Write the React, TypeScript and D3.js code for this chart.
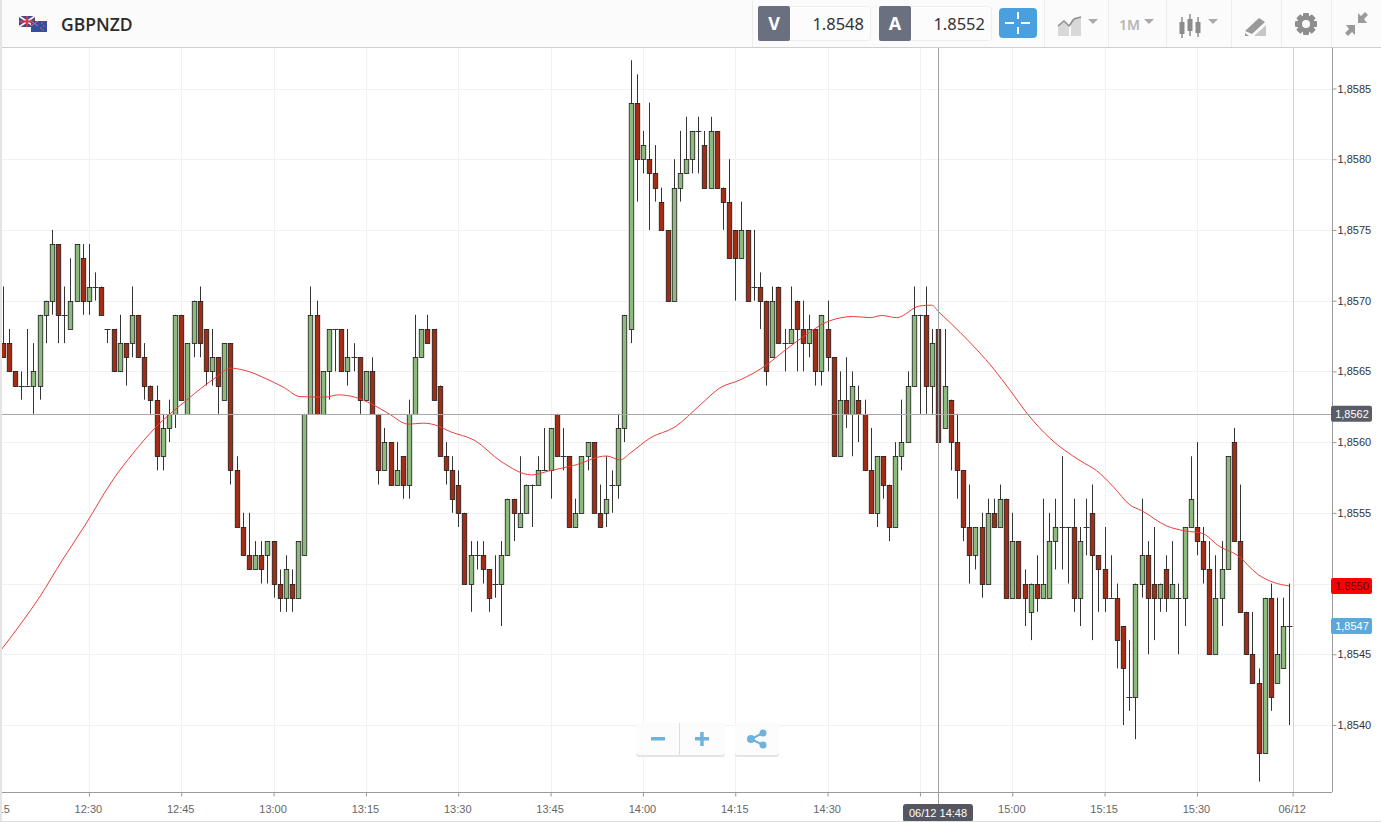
import { useEffect, useRef } from 'react';
import * as d3 from 'd3';

const WIDTH = 1381;
const HEIGHT = 822;

// candle values are the last two digits after 1.85, i.e. 67 means 1.8567
const opens = [
  67, 67, 65, 64, 64, 64, 64, 69, 70, 74, 69, 68, 70, 73, 70, 71, 71, 68, 68, 65,
  67, 67, 69, 66, 64, 63, 59, 61, 62, 69, 62, 67, 70, 68, 65, 66, 63, 67, 58, 54,
  52, 51, 52, 52, 53, 50, 49, 50, 49, 52, 62, 69, 62, 65, 68, 68, 65, 66, 66, 63,
  65, 62, 58, 60, 57, 59, 57, 62, 66, 68, 68, 64, 59, 58, 57, 55, 50, 52, 52, 51,
  50, 50, 52, 56, 54, 55, 57, 57, 58, 58, 62, 59, 59, 54, 55, 59, 60, 55, 55, 57,
  57, 61, 68, 84, 80, 80, 79, 77, 75, 70, 78, 79, 80, 82, 81, 78, 82, 78, 77, 75,
  73, 75, 71, 71, 70, 66, 71, 67, 67, 70, 68, 67, 68, 65, 68, 66, 59, 63, 62, 63,
  62, 58, 55, 59, 57, 54, 59, 60, 64, 69, 69, 64, 68, 61, 63, 60, 58, 54, 52, 54,
  50, 55, 54, 56, 49, 53, 50, 48, 50, 49, 49, 53, 54, 54, 54, 49, 54, 55, 52, 51,
  49, 49, 47, 42, 42, 50, 52, 50, 49, 51, 49, 49, 49, 54, 54, 53, 51, 45, 49, 51,
  60, 53, 48, 45, 43, 38, 49, 43, 44, 47,
];
const closes = [
  66, 65, 64, 64, 64, 65, 69, 70, 74, 69, 69, 70, 74, 70, 71, 71, 69, 68, 65, 67,
  66, 69, 66, 64, 63, 59, 61, 62, 69, 63, 67, 70, 67, 65, 66, 64, 67, 58, 54, 52,
  51, 52, 51, 53, 50, 49, 51, 49, 53, 62, 69, 62, 65, 68, 68, 65, 66, 66, 63, 65,
  62, 58, 60, 57, 58, 57, 62, 66, 68, 67, 63, 59, 58, 56, 55, 50, 52, 52, 51, 49,
  50, 52, 56, 55, 55, 57, 57, 58, 58, 61, 59, 59, 54, 55, 59, 60, 55, 54, 56, 57,
  61, 69, 84, 80, 81, 79, 78, 75, 70, 78, 79, 80, 82, 82, 78, 82, 78, 77, 73, 73,
  75, 70, 71, 70, 65, 70, 67, 67, 68, 68, 67, 68, 65, 69, 66, 59, 63, 62, 64, 62,
  58, 55, 59, 57, 54, 59, 60, 64, 69, 69, 64, 67, 60, 64, 60, 58, 54, 52, 54, 50,
  55, 54, 56, 49, 53, 49, 49, 50, 49, 50, 53, 54, 54, 54, 49, 53, 54, 52, 51, 49,
  49, 46, 44, 42, 50, 52, 49, 49, 50, 49, 50, 49, 54, 56, 53, 51, 45, 49, 51, 59,
  53, 48, 45, 43, 38, 49, 42, 45, 47, 47,
];
const highs = [
  71, 68, 65, 65, 68, 67, 69, 70, 75, 74, 71, 73, 74, 74, 74, 72, 71, 68, 68, 69,
  67, 71, 69, 67, 64, 64, 62, 63, 69, 69, 67, 70, 71, 68, 68, 66, 67, 67, 59, 55,
  55, 53, 53, 53, 53, 51, 52, 51, 53, 62, 71, 70, 65, 68, 68, 68, 68, 67, 66, 65,
  66, 62, 61, 60, 60, 59, 63, 69, 68, 69, 68, 64, 60, 59, 58, 55, 53, 53, 53, 51,
  52, 53, 56, 56, 59, 57, 57, 59, 61, 61, 62, 61, 59, 56, 59, 60, 60, 57, 59, 58,
  62, 69, 87, 86, 82, 84, 81, 78, 75, 80, 82, 83, 82, 83, 82, 83, 82, 78, 80, 75,
  77, 75, 75, 72, 70, 71, 71, 68, 71, 70, 70, 69, 68, 69, 70, 66, 65, 66, 65, 64,
  63, 61, 59, 59, 57, 60, 63, 65, 71, 69, 71, 68, 68, 68, 63, 62, 58, 57, 54, 55,
  56, 56, 57, 56, 55, 53, 51, 50, 52, 56, 55, 56, 59, 54, 56, 54, 56, 57, 52, 54,
  52, 50, 47, 46, 50, 56, 53, 54, 50, 52, 53, 50, 54, 59, 60, 54, 53, 52, 53, 59,
  61, 57, 48, 48, 44, 49, 50, 49, 49, 50,
];
const lows = [
  66, 65, 64, 63, 64, 62, 63, 67, 69, 67, 67, 68, 70, 69, 69, 70, 69, 67, 65, 65,
  64, 66, 66, 63, 62, 58, 58, 60, 61, 63, 62, 66, 66, 64, 64, 62, 63, 57, 54, 52,
  51, 51, 50, 50, 49, 48, 48, 48, 49, 52, 62, 62, 62, 63, 65, 65, 64, 65, 62, 63,
  62, 57, 58, 57, 57, 56, 56, 62, 66, 67, 63, 59, 57, 55, 54, 50, 48, 51, 50, 48,
  49, 47, 52, 53, 54, 55, 54, 57, 58, 56, 59, 58, 54, 54, 55, 58, 55, 54, 54, 55,
  56, 60, 67, 77, 79, 75, 77, 75, 70, 70, 77, 79, 79, 79, 78, 78, 78, 75, 73, 70,
  73, 70, 70, 68, 64, 66, 67, 65, 67, 65, 65, 66, 64, 64, 65, 59, 59, 61, 59, 60,
  58, 55, 54, 56, 53, 54, 58, 60, 64, 62, 62, 62, 60, 61, 58, 56, 53, 50, 51, 49,
  50, 54, 54, 49, 49, 49, 47, 46, 48, 49, 49, 51, 51, 50, 48, 47, 52, 46, 48, 48,
  49, 44, 40, 41, 39, 49, 45, 46, 48, 48, 49, 45, 47, 54, 52, 50, 45, 45, 47, 51,
  53, 48, 45, 43, 36, 38, 41, 43, 44, 40,
];

// moving average at these candle positions
const maIndex = [
  -0.4, 2.8, 6.1, 9.6, 13.4, 17.9, 21.2, 24.7, 29.9, 34.8, 37, 39.4, 42.6, 45.6, 48.3,
  52.4, 54.5, 57.2, 59.9, 62.6, 65.9, 68.3, 70.2, 72.7, 76.7, 81, 85.9, 88.9, 92.7,
  98.1, 100.3, 101.9, 105.2, 109.2, 113.3, 116.5, 119.8, 124.1, 126.8, 130.1, 134,
  138.2, 140.9, 142.8, 145.2, 149, 150.9, 152, 155.5, 161.1, 163.6, 166.6, 170.1, 175,
  177.7, 180.4, 183.1, 185, 189.1, 192.1, 194.8, 197.7, 200.5, 204, 206.4, 209,
];
const maValues = [
  45.23, 47.07, 49.12, 51.6, 54.14, 57.33, 59.22, 60.98, 62.98, 64.63, 65.23, 65.06,
  64.52, 63.88, 63.22, 63.18, 63.34, 63.18, 62.7, 62.04, 61.27, 61.34, 61.22, 60.74,
  60.11, 58.62, 57.68, 57.98, 58.34, 59.02, 58.74, 59.21, 60.3, 61.07, 62.63, 63.83,
  64.4, 65.46, 66.4, 67.46, 68.52, 68.88, 68.8, 68.95, 68.8, 69.63, 69.68, 69.23,
  67.77, 65.11, 63.69, 61.92, 60.28, 58.69, 57.98, 56.85, 55.56, 55.16, 54.07, 53.72,
  53.56, 52.61, 52.02, 50.61, 50.09, 49.83,
];

const priceTicks = [40, 45, 50, 55, 60, 65, 70, 75, 80, 85];
const timeLabels = ['12:15', '12:30', '12:45', '13:00', '13:15', '13:30', '13:45', '14:00', '14:15', '14:30', '14:45', '15:00', '15:15', '15:30', '06/12'];
const timeIndex = [-1, 14, 29, 44, 59, 74, 89, 104, 119, 134, 149, 164, 179, 194, 209.55];

const priceText = (p: number) => `1,85${p}`;

export default function App() {
  const svgRef = useRef<SVGSVGElement>(null);

  useEffect(() => {
    if (!svgRef.current) return;
    const svg = d3.select(svgRef.current);
    svg.selectAll('*').remove();

    const x = d3.scaleLinear().domain([0, 209]).range([2.7, 1289.3]);
    const y = d3.scaleLinear().domain([40, 85]).range([725, 88.5]);
    const axisX = 1332;
    const axisY = 792;
    const px = (v: number) => Math.round(v) + 0.5;

    svg.append('rect').attr('width', WIDTH).attr('height', HEIGHT).attr('fill', '#fff');

    // grid
    const grid = svg.append('g').attr('stroke', '#f0f1f1').attr('stroke-width', 1);
    priceTicks.forEach((p) => {
      grid.append('line').attr('x1', 0).attr('x2', axisX).attr('y1', px(y(p))).attr('y2', px(y(p)));
    });
    timeIndex.forEach((t, i) => {
      grid.append('line').attr('x1', px(x(t))).attr('x2', px(x(t))).attr('y1', 48).attr('y2', axisY)
        .attr('stroke', i === timeIndex.length - 1 ? '#d2d2d2' : '#f0f1f1');
    });

    // candles
    const candles = svg.append('g');
    opens.forEach((open, i) => {
      const close = closes[i];
      const cx = px(x(i));
      candles.append('line')
        .attr('x1', cx).attr('x2', cx)
        .attr('y1', y(highs[i])).attr('y2', y(lows[i]))
        .attr('stroke', '#333').attr('stroke-width', 1);
      if (open === close) {
        candles.append('line')
          .attr('x1', cx - 3).attr('x2', cx + 3)
          .attr('y1', px(y(open))).attr('y2', px(y(open)))
          .attr('stroke', '#333').attr('stroke-width', 1);
        return;
      }
      const top = px(y(Math.max(open, close)));
      const bottom = px(y(Math.min(open, close)));
      candles.append('rect')
        .attr('x', cx - 2.25).attr('width', 4.5)
        .attr('y', top).attr('height', bottom - top)
        .attr('fill', close > open ? '#8fba7e' : '#a32c14')
        .attr('stroke', '#1a1a1a').attr('stroke-width', 0.8);
    });

    // moving average
    const maLine = d3.line<number>()
      .x((_, i) => x(maIndex[i]))
      .y((d) => y(d))
      .curve(d3.curveMonotoneX);
    svg.append('path')
      .attr('d', maLine(maValues) || '')
      .attr('fill', 'none')
      .attr('stroke', '#ec3d3a')
      .attr('stroke-width', 1);

    // crosshair
    svg.append('line').attr('x1', 0).attr('x2', axisX).attr('y1', 414.5).attr('y2', 414.5).attr('stroke', '#a8a8a8');
    svg.append('line').attr('x1', 938.5).attr('x2', 938.5).attr('y1', 48).attr('y2', 804).attr('stroke', '#a0a0a0');

    // axes
    const styleAxis = (g: d3.Selection<SVGGElement, unknown, null, undefined>, color: string) => {
      g.selectAll('.domain').attr('stroke', '#9a9a9a');
      g.selectAll('.tick line').attr('stroke', '#9a9a9a');
      g.selectAll('text')
        .attr('font-family', '"Liberation Sans", Arial, sans-serif')
        .attr('font-size', 11)
        .attr('fill', color);
    };
    const yAxis = svg.append('g')
      .attr('transform', `translate(${axisX + 0.5},0)`)
      .call(
        d3.axisRight(y).tickValues(priceTicks).tickSize(4).tickPadding(1).tickFormat((d) => priceText(d as number))
      );
    yAxis.select('.domain').attr('d', `M0,48V${axisY}`);
    styleAxis(yAxis, '#333');

    const xAxis = svg.append('g')
      .attr('transform', `translate(0,${axisY + 0.5})`)
      .call(
        d3.axisBottom(x).tickValues(timeIndex).tickSize(4).tickPadding(9)
          .tickFormat((_, i) => timeLabels[i])
      );
    xAxis.select('.domain').attr('d', `M0,0H${axisX}`);
    xAxis.selectAll('text').attr('dx', -1);
    styleAxis(xAxis, '#666');

    // price badges, the red one sits at the last moving average value
    const badge = (price: number, label: string, fill: string, color: string) => {
      const cy = y(price);
      svg.append('rect').attr('x', 1331).attr('y', cy - 8).attr('width', 41).attr('height', 16).attr('rx', 2).attr('fill', fill);
      svg.append('text').attr('x', 1352).attr('y', cy + 4).attr('text-anchor', 'middle')
        .attr('font-family', '"Liberation Sans", Arial, sans-serif').attr('font-size', 11)
        .attr('fill', color).text(label);
    };
    badge(62, priceText(62), '#5a5d68', '#fff');
    badge(maValues[maValues.length - 1], priceText(50), '#ff0000', '#4a1010');
    badge(47, priceText(47), '#5aa9dc', '#fff');

    // crosshair time badge
    svg.append('rect').attr('x', 903).attr('y', 804).attr('width', 70).attr('height', 18).attr('rx', 3).attr('fill', '#55565f');
    svg.append('text').attr('x', 938).attr('y', 816.5).attr('text-anchor', 'middle')
      .attr('font-family', '"Liberation Sans", Arial, sans-serif').attr('font-size', 11)
      .attr('fill', '#fff').text('06/12 14:48');

    // zoom + share buttons
    const buttons = svg.append('g');
    [[636, 89], [735, 44]].forEach(([bx, bw]) => {
      buttons.append('rect').attr('x', bx).attr('y', 725).attr('width', bw).attr('height', 32).attr('rx', 3).attr('fill', '#e4e4e4');
      buttons.append('rect').attr('x', bx).attr('y', 723).attr('width', bw).attr('height', 32).attr('rx', 3).attr('fill', '#fcfcfc');
    });
    buttons.append('line').attr('x1', 679.5).attr('x2', 679.5).attr('y1', 723).attr('y2', 755).attr('stroke', '#ddd');
    const blue = '#6fb3dc';
    svg.append('rect').attr('x', 651).attr('y', 737).attr('width', 14).attr('height', 3.5).attr('fill', blue);
    svg.append('rect').attr('x', 695).attr('y', 737).attr('width', 14).attr('height', 3.5).attr('fill', blue);
    svg.append('rect').attr('x', 700.2).attr('y', 732).attr('width', 3.5).attr('height', 14).attr('fill', blue);
    svg.append('path').attr('d', 'M763,733L751,739L763,745').attr('fill', 'none').attr('stroke', blue).attr('stroke-width', 2);
    [[763, 733, 3.5], [751, 739, 4], [763, 745, 3.5]].forEach(([cx, cy, r]) => {
      svg.append('circle').attr('cx', cx).attr('cy', cy).attr('r', r).attr('fill', blue);
    });

    // header
    const header = svg.append('g');
    header.append('rect').attr('width', WIDTH).attr('height', 47).attr('fill', '#fbfbfb');
    header.append('line').attr('x1', 0).attr('x2', WIDTH).attr('y1', 47.5).attr('y2', 47.5).attr('stroke', '#cfcfcf');
    [752, 1044, 1108, 1166, 1231, 1281, 1331].forEach((sx) => {
      header.append('line').attr('x1', sx + 0.5).attr('x2', sx + 0.5).attr('y1', 0).attr('y2', 47).attr('stroke', '#ececec');
    });

    // flags
    header.append('rect').attr('x', 19).attr('y', 16).attr('width', 16).attr('height', 11).attr('fill', '#3a4a8c');
    header.append('path').attr('d', 'M19,16L35,27M35,16L19,27').attr('stroke', '#eee').attr('stroke-width', 2);
    header.append('path').attr('d', 'M27,16V27M19,21.5H35').attr('stroke', '#d8344a').attr('stroke-width', 2);
    header.append('rect').attr('x', 31).attr('y', 21).attr('width', 16).attr('height', 11).attr('fill', '#33509f');
    header.append('path').attr('d', 'M31,21L38,26M38,21L31,26').attr('stroke', '#e46a7a').attr('stroke-width', 1);
    [[42, 23], [44, 26], [41, 28], [43, 30]].forEach(([cx, cy]) => {
      header.append('circle').attr('cx', cx).attr('cy', cy).attr('r', 0.8).attr('fill', '#e9505f');
    });

    header.append('text').attr('x', 61).attr('y', 31)
      .attr('font-family', '"Open Sans", sans-serif').attr('font-size', 17.5).attr('font-weight', 600)
      .attr('fill', '#2b2b2b').text('GBPNZD');

    const quote = (bx: number, label: string, value: string) => {
      header.append('rect').attr('x', bx + 0.5).attr('y', 6.5).attr('width', 112).attr('height', 34).attr('rx', 3)
        .attr('fill', '#fcfcfc').attr('stroke', '#eeeeee');
      header.append('rect').attr('x', bx).attr('y', 6).attr('width', 32).attr('height', 35).attr('rx', 2).attr('fill', '#6b7080');
      header.append('text').attr('x', bx + 16).attr('y', 30).attr('text-anchor', 'middle')
        .attr('font-family', '"Open Sans", sans-serif').attr('font-size', 18).attr('font-weight', 700)
        .attr('fill', '#fff').text(label);
      header.append('text').attr('x', bx + 106).attr('y', 29.5).attr('text-anchor', 'end')
        .attr('font-family', '"Noto Sans", sans-serif').attr('font-size', 16.5)
        .attr('fill', '#333').text(value);
    };
    quote(758, 'V', '1.8548');
    quote(879, 'A', '1.8552');

    // crosshair button
    header.append('rect').attr('x', 999).attr('y', 8).attr('width', 38).attr('height', 30).attr('rx', 4).attr('fill', '#4a9fdf');
    header.append('path').attr('d', 'M1005,23H1014M1021,23H1030M1018,12V19M1018,27V34').attr('stroke', '#fff').attr('stroke-width', 2);

    // toolbar icons
    const grey = '#a9a9a9';
    header.append('path').attr('d', 'M1058,36V26L1064,22L1069,28V36ZM1071,36V20L1081,18V36Z').attr('fill', '#d8d8d8');
    header.append('path').attr('d', 'M1058,26L1064,21L1069,26L1074,19L1081,17').attr('fill', 'none').attr('stroke', '#8c8c8c').attr('stroke-width', 1.5);
    [1093, 1149, 1213].forEach((ax) => {
      header.append('path').attr('d', `M${ax - 5},19H${ax + 5}L${ax},24Z`).attr('fill', grey);
    });
    header.append('text').attr('x', 1119).attr('y', 30)
      .attr('font-family', '"Noto Sans", sans-serif').attr('font-size', 14).attr('font-weight', 600)
      .attr('fill', '#b5b5b5').text('1M');

    const iconCandle = (cx: number, top: number, bottom: number, bt: number, bb: number) => {
      header.append('line').attr('x1', cx).attr('x2', cx).attr('y1', top).attr('y2', bottom).attr('stroke', '#8c8c8c').attr('stroke-width', 1.5);
      header.append('rect').attr('x', cx - 2.5).attr('y', bt).attr('width', 5).attr('height', bb - bt).attr('fill', '#8c8c8c');
    };
    iconCandle(1182, 17, 38, 22, 34);
    iconCandle(1190, 14, 36, 19, 31);
    iconCandle(1198, 17, 37, 22, 33);

    header.append('path').attr('d', 'M1245,31L1259,18L1265,22L1252,34Z').attr('fill', '#9a9a9a');
    header.append('path').attr('d', 'M1245,33L1249,36H1245Z').attr('fill', '#9a9a9a');
    header.append('path').attr('d', 'M1254,36L1266,25V36Z').attr('fill', '#c6c6c6');

    // gear: teeth first, then the ring
    [0, 45, 90, 135].forEach((deg) => {
      header.append('rect').attr('x', 1303).attr('y', 13).attr('width', 6).attr('height', 22).attr('rx', 1)
        .attr('fill', '#8e8e8e').attr('transform', `rotate(${deg},1306,24)`);
    });
    header.append('circle').attr('cx', 1306).attr('cy', 24).attr('r', 8.5).attr('fill', '#8e8e8e');
    header.append('circle').attr('cx', 1306).attr('cy', 24).attr('r', 4).attr('fill', '#fbfbfb');

    header.append('path').attr('d', 'M1358,23V13L1361,16L1365,12L1368,15L1364,19L1367,23ZM1355,25V35L1352,32L1348,36L1345,33L1349,29L1346,25Z').attr('fill', '#9a9a9a');

    // left edge
    svg.append('rect').attr('x', 0).attr('y', 0).attr('width', 2).attr('height', HEIGHT).attr('fill', '#e4e4e4');
    svg.append('line').attr('x1', 0).attr('x2', WIDTH).attr('y1', 821.5).attr('y2', 821.5).attr('stroke', '#ddd');
  }, []);

  return (
    <svg
      ref={svgRef}
      width={WIDTH}
      height={HEIGHT}
      viewBox={`0 0 ${WIDTH} ${HEIGHT}`}
      style={{ position: 'absolute', left: 0, top: 0, display: 'block' }}
    />
  );
}
